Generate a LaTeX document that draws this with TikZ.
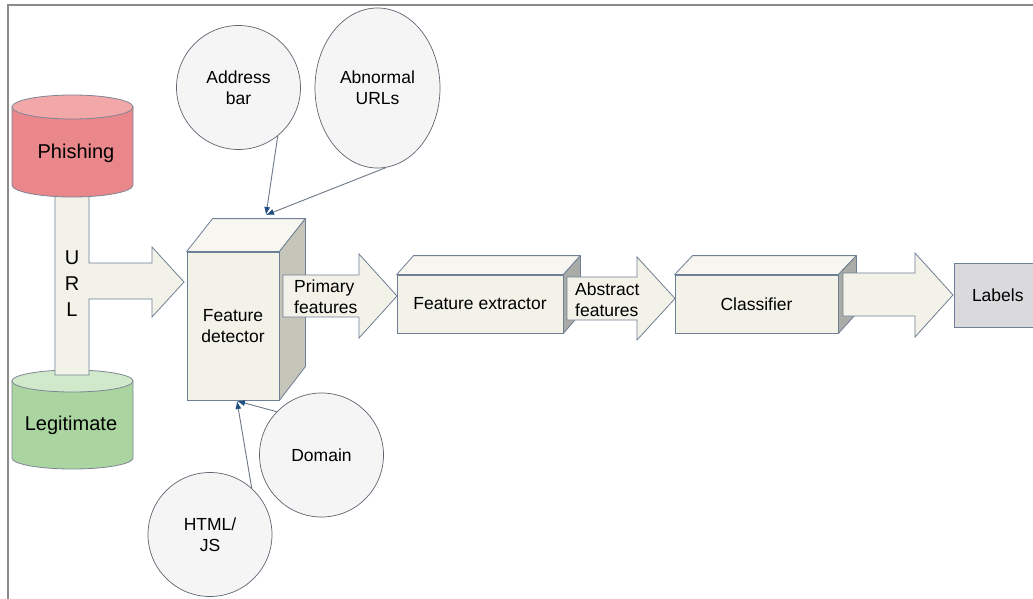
\documentclass[tikz,border=0pt]{standalone}
\usepackage{fontspec}
\setmainfont{Liberation Sans}
\usetikzlibrary{arrows.meta,shapes.geometric,calc}
\definecolor{edge}{HTML}{6F7F96}
\definecolor{cyledge}{HTML}{7E8594}
\definecolor{phbody}{HTML}{E9878B}
\definecolor{phtop}{HTML}{F2A8A9}
\definecolor{lgbody}{HTML}{AAD5A1}
\definecolor{lgtop}{HTML}{D0E9CA}
\definecolor{beige}{HTML}{F3F2E9}
\definecolor{boxtop}{HTML}{F7F6F0}
\definecolor{sidelight}{HTML}{C5C5BA}
\definecolor{sidedark}{HTML}{A9ACA6}
\definecolor{labfill}{HTML}{DADADD}
\definecolor{bubfill}{HTML}{F5F5F5}
\definecolor{bubedge}{HTML}{5F6670}
\definecolor{feedline}{HTML}{6E7886}
\definecolor{tipblue}{HTML}{1F4E80}
\definecolor{framegrey}{HTML}{8A8A8A}
\newcommand\fsbig{\fontsize{20}{24}\selectfont}
\newcommand\fsnorm{\fontsize{17.5}{21}\selectfont}
\begin{document}
\begin{tikzpicture}[x=1pt,y=-1pt,
  cylb/.style={draw=cyledge, line width=0.8pt},
  barrow/.style={draw=edge, fill=beige, line width=0.8pt, line join=miter},
  frontface/.style={rectangle, draw=edge, fill=beige, line width=0.8pt, inner sep=0pt, font=\fsnorm, align=center},
  topface/.style={draw=edge, fill=boxtop, line width=0.8pt, line join=round},
  sideface/.style={draw=edge, line width=0.8pt, line join=round},
  lbl/.style={inner sep=0pt, font=\fsnorm, align=left},
  bub/.style={draw=bubedge, fill=bubfill, line width=0.7pt, inner sep=0pt, font=\fsnorm, align=center},
  feed/.style={draw=feedline, line width=0.9pt, -{Latex[length=8pt,width=6pt,color=tipblue]}},
  labbox/.style={rectangle, draw=edge, fill=labfill, line width=0.8pt, inner sep=0pt, font=\fsnorm}
]
\useasboundingbox (0,0) rectangle (1033,599);
\fill[white] (0,0) rectangle (1033,599);
\draw[framegrey, line width=1.4pt] (1040,5) -- (8,5) -- (8,605);

% Legitimate cylinder
\filldraw[cylb, fill=lgbody] (12,381) -- (12,458) arc[start angle=180, end angle=360, x radius=60.5pt, y radius=11pt] -- (133,381) -- cycle;
\filldraw[cylb, fill=lgtop] (72.5,381) ellipse[x radius=60.5pt, y radius=11pt];
\node[inner sep=0pt, font=\fsbig] (lg) at (71,425) {Legitimate};

% URL T-arrow
\filldraw[barrow] (55,190) -- (89,190) -- (89,263) -- (152,263) -- (152,247) -- (184,282) -- (152,317) -- (152,299) -- (89,299) -- (89,375) -- (55,375) -- cycle;
\node[inner sep=0pt, font=\fsbig] (u) at (72,258) {U};
\node[inner sep=0pt, font=\fsbig] (r) at (72,284) {R};
\node[inner sep=0pt, font=\fsbig] (l) at (72,310) {L};

% Phishing cylinder
\filldraw[cylb, fill=phbody] (12,107) -- (12,185) arc[start angle=180, end angle=360, x radius=60.5pt, y radius=12pt] -- (133,107) -- cycle;
\filldraw[cylb, fill=phtop] (72.5,107) ellipse[x radius=60.5pt, y radius=12pt];
\node[inner sep=0pt, font=\fsbig] (ph) at (76,153) {Phishing};

% Feature detector box
\node[frontface, minimum width=92pt, minimum height=148pt] (fd) at (233,326) {Feature\\detector};
\filldraw[topface] (fd.north west) -- ++(26,-33) -- ($(fd.north east)+(26,-33)$) -- (fd.north east) -- cycle;
\filldraw[sideface, fill=sidelight] (fd.north east) -- ++(26,-33) -- ++(0,148) -- (fd.south east) -- cycle;

% Primary features arrow
\filldraw[barrow] (283,275) -- (359,275) -- (359,254) -- (397,296) -- (359,338) -- (359,317) -- (283,317) -- cycle;
\node[lbl, anchor=west] (pf) at (294,297) {Primary\\features};

% Feature extractor box
\node[frontface, minimum width=166pt, minimum height=58pt] (fe) at (480,304) {Feature extractor};
\filldraw[topface] (fe.north west) -- ++(17,-19) -- ($(fe.north east)+(17,-19)$) -- (fe.north east) -- cycle;
\filldraw[sideface, fill=sidedark] (fe.north east) -- ++(17,-19) -- ++(0,58) -- (fe.south east) -- cycle;

% Abstract features arrow
\filldraw[barrow] (567,277) -- (637,277) -- (637,257) -- (675,298.5) -- (637,340) -- (637,320) -- (567,320) -- cycle;
\node[lbl, anchor=west] (af) at (575,300) {Abstract\\features};

% Classifier box
\node[frontface, minimum width=163pt, minimum height=58pt] (cl) at (756.5,304) {Classifier};
\filldraw[topface] (cl.north west) -- ++(18,-19) -- ($(cl.north east)+(18,-19)$) -- (cl.north east) -- cycle;
\filldraw[sideface, fill=sidedark] (cl.north east) -- ++(18,-19) -- ++(0,58) -- (cl.south east) -- cycle;

% Output arrow
\filldraw[barrow] (843,273) -- (915,273) -- (915,253) -- (953,295) -- (915,337) -- (915,316) -- (843,316) -- cycle;

% Labels box
\node[labbox, minimum width=86pt, minimum height=64pt, text width=86pt, align=left] (lb) at (997,295) {\hspace*{18pt}Labels};

% Feature bubbles
\node[bub, circle, minimum size=124pt] (addr) at (238.5,87.5) {Address\\bar};
\node[bub, ellipse, minimum width=125pt, minimum height=160pt] (abn) at (377.5,88) {Abnormal\\URLs};
\node[bub, circle, minimum size=124pt] (dom) at (321.5,455) {Domain};
\node[bub, circle, minimum size=124pt] (html) at (210,534.5) {HTML/\\JS};

\coordinate (tt) at (266,215);
\coordinate (tb) at (237,401);
\draw[feed] (addr.-51) -- (tt);
\draw[feed] (abn.-84) -- (tt);
\draw[feed] (dom.136) -- (tb);
\draw[feed] (html.48) -- (tb);
\end{tikzpicture}
\end{document}
